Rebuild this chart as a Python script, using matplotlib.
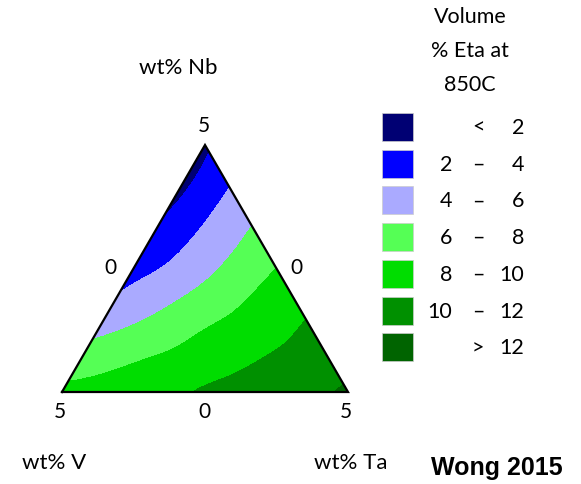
import numpy as np
import matplotlib
matplotlib.use("Agg")
import matplotlib.pyplot as plt
import matplotlib.tri as mtri
from matplotlib.colors import ListedColormap, BoundaryNorm

# volume % eta at 850C, one list per wt% Nb row
# (Nb goes 0 -> 5 in 8 steps), each row runs from V-rich to Ta-rich
eta_nb0 = [8.55, 8.8, 9.15, 9.45, 10.3, 10.8, 11.2, 11.6, 12.3]
eta_nb1 = [7.02, 7.59, 8.17, 8.71, 9.34, 10.02, 10.56, 11.22]
eta_nb2 = [5.54, 6.30, 7.14, 8.04, 8.74, 9.54, 10.36]
eta_nb3 = [4.22, 5.19, 6.23, 7.26, 8.35, 9.27]
eta_nb4 = [3.36, 4.27, 5.50, 6.80, 8.03]
eta_nb5 = [2.50, 3.78, 5.17, 6.61]
eta_nb6 = [1.82, 3.50, 5.00]
eta_nb7 = [1.5, 3.37]
eta_nb8 = [1.6]
eta_rows = [eta_nb0, eta_nb1, eta_nb2, eta_nb3, eta_nb4,
            eta_nb5, eta_nb6, eta_nb7, eta_nb8]

levels = [0, 2, 4, 6, 8, 10, 12, 20]
colors = ["#000073", "#0000ff", "#aaaaff", "#55ff55", "#00dd00", "#009000", "#006400"]
range_lo = ["", "2", "4", "6", "8", "10", ""]
range_sep = ["<", "–", "–", "–", "–", "–", ">"]
range_hi = ["2", "4", "6", "8", "10", "12", "12"]

W, H = 581, 485
FONT = ["Lato", "DejaVu Sans"]


def fxy(px, py):
    return px / W, 1 - py / H


# ternary -> cartesian (V at left, Ta at right, Nb at top)
n = len(eta_rows) - 1
h = np.sqrt(3) / 2
xs, ys, zs = [], [], []
for i, row in enumerate(eta_rows):
    nb = i / n
    for j, v in enumerate(row):
        ta = j / n
        xs.append(ta + nb / 2)
        ys.append(nb * h)
        zs.append(v)

tri = mtri.Triangulation(np.array(xs), np.array(ys))
z = np.array(zs)
interp = mtri.CubicTriInterpolator(tri, z, kind="min_E")
refiner = mtri.UniformTriRefiner(tri)
tri_f, z_f = refiner.refine_field(z, triinterpolator=interp, subdiv=4)

fig = plt.figure(figsize=(W / 100, H / 100), dpi=100)
ax = fig.add_axes([62 / W, (H - 393) / H, 286 / W, 247 / H])
ax.set_xlim(0, 1)
ax.set_ylim(0, h)
ax.axis("off")

cmap = ListedColormap(colors)
norm = BoundaryNorm(levels, cmap.N)
ax.tricontourf(tri_f, z_f, levels=levels, cmap=cmap, norm=norm)
ax.plot([0, 1, 0.5, 0], [0, 0, h, 0], color="black", lw=1.6,
        solid_joinstyle="miter", clip_on=False)

# axis tick labels
ts = 15
for (px, py), s in [((204, 126), "5"), ((110, 268), "0"), ((296, 268), "0"),
                    ((60, 412), "5"), ((204, 412), "0"), ((346, 412), "5")]:
    fig.text(*fxy(px, py), s, ha="center", va="center", fontsize=ts, family=FONT)

ls = 16
fig.text(*fxy(178, 68), "wt% Nb", ha="center", va="center", fontsize=ls, family=FONT)
fig.text(*fxy(54, 463), "wt% V", ha="center", va="center", fontsize=ls, family=FONT)
fig.text(*fxy(351, 463), "wt% Ta", ha="center", va="center", fontsize=ls, family=FONT)
fig.text(*fxy(497, 468), "Wong 2015", ha="center", va="center", fontsize=18,
         fontweight="bold", family=["Liberation Sans", "DejaVu Sans"])

# legend
gs = 15.5
for k, line in enumerate(["Volume", "% Eta at", "850C"]):
    fig.text(*fxy(470, 17 + 34 * k), line, ha="center", va="center",
             fontsize=gs, family=FONT)

for k, c in enumerate(colors):
    cy = 128 + 36.7 * k
    x0, y0 = fxy(382, cy + 14)
    fig.patches.append(plt.Rectangle((x0, y0), 31 / W, 28 / H, facecolor=c,
                                     edgecolor="#cccccc", lw=0.5,
                                     transform=fig.transFigure))
    fig.text(*fxy(452, cy), range_lo[k], ha="right", va="center", fontsize=gs, family=FONT)
    fig.text(*fxy(478, cy), range_sep[k], ha="center", va="center", fontsize=gs, family=FONT)
    fig.text(*fxy(524, cy), range_hi[k], ha="right", va="center", fontsize=gs, family=FONT)

fig.savefig("out.png", dpi=100)
